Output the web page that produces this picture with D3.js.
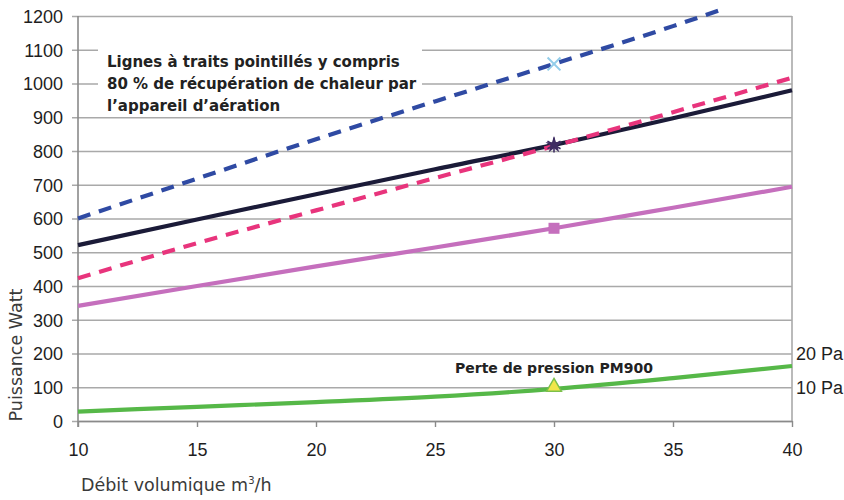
<!DOCTYPE html>
<html>
<head>
<meta charset="utf-8">
<script src="https://cdn.jsdelivr.net/npm/d3@7"></script>
<style>
  html, body { margin: 0; padding: 0; background: #fff; }
  svg { display: block; }
</style>
</head>
<body>
<svg id="chart" width="844" height="500"></svg>
<script>
// ---- data ----
const xTicks = [10, 15, 20, 25, 30, 35, 40];
const yTicks = [0, 100, 200, 300, 400, 500, 600, 700, 800, 900, 1000, 1100, 1200];
const xLabels = ["10", "15", "20", "25", "30", "35", "40"];
const yLabels = ["0", "100", "200", "300", "400", "500", "600", "700", "800", "900", "1000", "1100", "1200"];

const flow = [10, 15, 20, 25, 30, 35, 40];
const flowBlue = [10, 15, 20, 25, 30, 35, 37];
const blueDashed = [600, 718, 835, 947, 1058, 1170, 1218];   // dashed, with recovery
const blackSolid = [521, 597, 672, 746, 818, 897, 980];
const pinkDashed = [423, 527, 624, 720, 815, 915, 1017];     // dashed, with recovery
const orchidSolid = [341, 400, 458, 514, 571, 632, 694];
const greenLoss = [28, 42, 56, 72, 95, 127, 163];           // Perte de pression PM900

const markerX = 30;
const markerBlue = 1058, markerStar = 818, markerSquare = 571, markerTri = 95;

const noteLines = ["Lignes à traits pointillés y compris",
                   "80 % de récupération de chaleur par",
                   "l’appareil d’aération"];
const lossLabel = "Perte de pression PM900";
const paLabels = [{t: "20 Pa", v: 200}, {t: "10 Pa", v: 100}];
const yTitle = "Puissance Watt";
const xTitle = "Débit volumique m";

// ---- drawing ----
const svg = d3.select("#chart");
const pL = 78, pR = 792, pT = 16, pB = 421;
const x = d3.scaleLinear().domain([10, 40]).range([pL, pR]);
const y = d3.scaleLinear().domain([0, 1200]).range([pB, pT]);

const FONT = "'Liberation Sans', Arial, sans-serif";
const BFONT = "'DejaVu Sans', 'Liberation Sans', sans-serif";

// grid + y axis
const gy = svg.append("g").attr("transform", `translate(${pL},0)`)
  .call(d3.axisLeft(y).tickValues(yTicks).tickFormat((d, i) => yLabels[i])
    .tickSizeInner(-(pR - pL)).tickSizeOuter(0).tickPadding(15));
gy.select(".domain").remove();
gy.selectAll(".tick line").attr("x1", -6).attr("stroke", "#a9a9a9").attr("stroke-width", 1.6);
gy.selectAll(".tick text").attr("font-family", FONT).attr("font-size", 18)
  .attr("fill", "#1e1e1e").attr("dy", "0.35em");

// text box covering grid
svg.append("rect").attr("x", 98).attr("y", 38).attr("width", 324).attr("height", 76).attr("fill", "#fff");

// frame lines
svg.append("line").attr("x1", pR).attr("x2", pR).attr("y1", pT).attr("y2", pB)
  .attr("stroke", "#a9a9a9").attr("stroke-width", 1.6);
svg.append("line").attr("x1", pL).attr("x2", pL).attr("y1", pT).attr("y2", pB + 6)
  .attr("stroke", "#8a8a8a").attr("stroke-width", 1.6);

// x axis
const gx = svg.append("g").attr("transform", `translate(0,${pB})`)
  .call(d3.axisBottom(x).tickValues(xTicks).tickFormat((d, i) => xLabels[i])
    .tickSize(6).tickSizeOuter(0).tickPadding(16));
gx.select(".domain").attr("stroke", "#8a8a8a").attr("stroke-width", 1.6);
gx.selectAll(".tick line").attr("stroke", "#8a8a8a").attr("stroke-width", 1.4);
gx.selectAll(".tick text").attr("font-family", FONT).attr("font-size", 18).attr("fill", "#1e1e1e");

// series
const line = (xs) => d3.line().x((d, i) => x(xs[i])).y(d => y(d)).curve(d3.curveMonotoneX);
const series = [
  {xs: flowBlue, v: blueDashed, c: "#2f4aa3", dash: "13,9"},
  {xs: flow, v: orchidSolid, c: "#c56fbd", dash: null},
  {xs: flow, v: greenLoss, c: "#56b848", dash: null},
  {xs: flow, v: blackSolid, c: "#1b1b38", dash: null},
  {xs: flow, v: pinkDashed, c: "#e8347c", dash: "13,9"}
];
series.forEach(s => {
  svg.append("path").datum(s.v).attr("d", line(s.xs)).attr("fill", "none")
    .attr("stroke", s.c).attr("stroke-width", 4.2)
    .attr("stroke-dasharray", s.dash);
});

// markers
const mx = x(markerX);
svg.append("path").attr("d", d3.symbol(d3.symbolTimes, 110)())
  .attr("transform", `translate(${mx},${y(markerBlue)})`)
  .attr("fill", "none").attr("stroke", "#93cdea").attr("stroke-width", 2);
svg.append("path").attr("d", d3.symbol(d3.symbolStar, 90)())
  .attr("transform", `translate(${mx},${y(markerStar)})`).attr("fill", "#3e2c62");
svg.append("path").attr("d", d3.symbol(d3.symbolAsterisk, 160)())
  .attr("transform", `translate(${mx},${y(markerStar)})`)
  .attr("fill", "none").attr("stroke", "#3e2c62").attr("stroke-width", 1.6);
svg.append("path").attr("d", d3.symbol(d3.symbolSquare, 121)())
  .attr("transform", `translate(${mx},${y(markerSquare)})`).attr("fill", "#c56fbd");
svg.append("path").attr("d", d3.symbol(d3.symbolTriangle, 95)())
  .attr("transform", `translate(${mx},${y(markerTri) - 2})`)
  .attr("fill", "#f2e64a").attr("stroke", "#7cc04a").attr("stroke-width", 1.5);

// notes
const note = svg.append("text").attr("font-family", BFONT).attr("font-weight", "bold")
  .attr("font-size", 15).attr("fill", "#222");
noteLines.forEach((t, i) => note.append("tspan").attr("x", 107).attr("y", 67 + i * 22).text(t));

svg.append("text").attr("x", 455).attr("y", 373).attr("font-family", BFONT).attr("font-weight", "bold")
  .attr("font-size", 14).attr("fill", "#222").text(lossLabel);

paLabels.forEach(p => {
  svg.append("text").attr("x", 796).attr("y", y(p.v)).attr("dy", "0.35em")
    .attr("font-family", FONT).attr("font-size", 18).attr("fill", "#1e1e1e").text(p.t);
});

// axis titles
svg.append("text").attr("transform", `translate(22,355) rotate(-90)`).attr("text-anchor", "middle")
  .attr("font-family", BFONT).attr("font-size", 17.5).attr("fill", "#3a3a3a").text(yTitle);
const xt = svg.append("text").attr("x", 81).attr("y", 491).attr("font-family", BFONT)
  .attr("font-size", 17.5).attr("fill", "#3a3a3a").text(xTitle);
xt.append("tspan").attr("font-size", 10).attr("dy", -7).text("3");
xt.append("tspan").attr("dy", 7).text("/h");
</script>
</body>
</html>
